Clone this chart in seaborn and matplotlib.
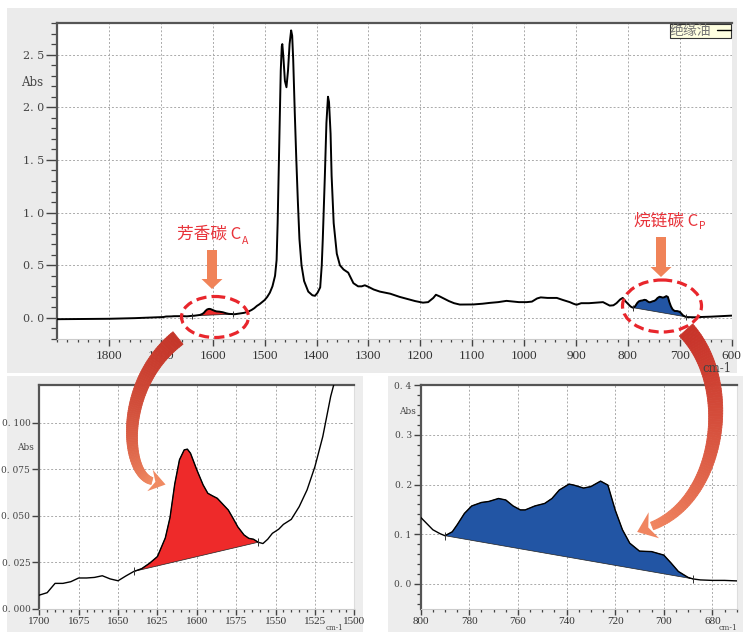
import numpy as np
import pandas as pd
import matplotlib
matplotlib.use("Agg")
import matplotlib.pyplot as plt
import matplotlib.colors as mcolors
import seaborn as sns
from matplotlib.patches import Ellipse, Rectangle, Polygon, FancyArrow
from matplotlib.collections import PolyCollection
from matplotlib.lines import Line2D
from matplotlib.ticker import MultipleLocator

# ---------------- data ----------------
wavenumber = [1900, 1850, 1800, 1750, 1700, 1695, 1690, 1685, 1680, 1675, 1670, 1665, 1660, 1655, 1650,
              1645, 1640, 1635, 1630, 1625, 1620, 1617, 1614, 1611, 1608, 1606, 1604, 1600, 1596, 1593,
              1590, 1587, 1584, 1580, 1577, 1574, 1570, 1567, 1564, 1561, 1558, 1555, 1552, 1548, 1545,
              1540, 1535, 1530, 1525, 1520, 1515, 1510, 1505, 1500, 1495, 1490, 1485, 1480, 1477, 1475,
              1473, 1471, 1469, 1467, 1466, 1464, 1461, 1458, 1455, 1452, 1449, 1447, 1445, 1442, 1439,
              1436, 1433, 1429, 1424, 1416, 1408, 1403, 1398, 1393, 1390, 1388, 1384, 1381, 1378, 1376,
              1373, 1371, 1367, 1361, 1355, 1348, 1339, 1334, 1329, 1320, 1313, 1307, 1300, 1290, 1278,
              1258, 1240, 1225, 1210, 1195, 1185, 1175, 1170, 1163, 1155, 1145, 1135, 1124, 1110, 1098,
              1080, 1066, 1050, 1034, 1020, 1010, 995, 985, 975, 968, 955, 937, 925, 912, 905,
              899, 890, 875, 860, 848, 840, 835, 828, 822, 815, 810, 805, 800, 795, 792,
              790, 787, 785, 782, 779, 775, 772, 768, 765, 762, 759, 757, 753, 749, 746,
              743, 739, 737, 733, 730, 726, 723, 720, 717, 714, 710, 705, 700, 697, 694,
              690, 688, 685, 680, 675, 670, 665, 650, 640, 625, 610, 600]
absorbance = [-0.012, -0.010, -0.008, -0.002, 0.0073, 0.0086, 0.0136, 0.0136, 0.0145, 0.0165, 0.0165, 0.0168, 0.0177, 0.0160, 0.0150,
              0.0176, 0.0200, 0.0215, 0.0244, 0.0280, 0.0380, 0.0490, 0.0670, 0.0800, 0.0853, 0.0857, 0.0835, 0.0746, 0.0665, 0.0620,
              0.0606, 0.0593, 0.0566, 0.0530, 0.0486, 0.0440, 0.0396, 0.0378, 0.0373, 0.0357, 0.0350, 0.0373, 0.0405, 0.0427, 0.0453,
              0.0480, 0.0548, 0.0638, 0.0763, 0.0925, 0.1140, 0.1300, 0.1500, 0.1700, 0.2000, 0.2400, 0.3000, 0.4000, 0.5500, 0.9000,
              1.4000, 1.9000, 2.3500, 2.5800, 2.6000, 2.4800, 2.2500, 2.1900, 2.3500, 2.6000, 2.7300, 2.6800, 2.4500, 1.9500, 1.5000,
              1.1000, 0.7500, 0.5000, 0.3500, 0.2500, 0.2150, 0.2100, 0.2400, 0.2900, 0.5000, 0.7500, 1.3500, 1.8500, 2.1000, 2.0500,
              1.7500, 1.3500, 0.9000, 0.6100, 0.5000, 0.4600, 0.4300, 0.3800, 0.3300, 0.3000, 0.3000, 0.3100, 0.2950, 0.2700, 0.2500,
              0.2300, 0.2000, 0.1800, 0.1600, 0.1450, 0.1500, 0.1900, 0.2200, 0.2050, 0.1850, 0.1600, 0.1400, 0.1270, 0.1270, 0.1280,
              0.1350, 0.1430, 0.1500, 0.1620, 0.1550, 0.1500, 0.1500, 0.1550, 0.1850, 0.1950, 0.1900, 0.1900, 0.1700, 0.1500, 0.1350,
              0.1250, 0.1400, 0.1400, 0.1450, 0.1500, 0.1300, 0.1170, 0.1200, 0.1400, 0.1750, 0.1900, 0.1600, 0.1340, 0.1090, 0.1010,
              0.0970, 0.1050, 0.1190, 0.1420, 0.1570, 0.1640, 0.1660, 0.1720, 0.1690, 0.1570, 0.1490, 0.1490, 0.1570, 0.1620, 0.1720,
              0.1890, 0.2010, 0.1990, 0.1930, 0.1960, 0.2070, 0.1990, 0.1490, 0.1090, 0.0820, 0.0660, 0.0650, 0.0580, 0.0420, 0.0250,
              0.0130, 0.0100, 0.0080, 0.0070, 0.0070, 0.0060, 0.0080, 0.0100, 0.0120, 0.0160, 0.0200, 0.0220]

aromatic_range = [1640, 1561]   # C_A integration limits (cm-1)
paraffin_range = [790, 688]     # C_P integration limits (cm-1)

legend_label = "绝缘油"
label_ca = "芳香碳 C"
label_cp = "烷链碳 C"

main_yticks = [0.0, 0.5, 1.0, 1.5, 2.0, 2.5]
main_xticks = [1800, 1700, 1600, 1500, 1400, 1300, 1200, 1100, 1000, 900, 800, 700, 600]
left_yticks = [0.000, 0.025, 0.050, 0.075, 0.100]
left_xticks = [1700, 1675, 1650, 1625, 1600, 1575, 1550, 1525, 1500]
right_yticks = [0.0, 0.1, 0.2, 0.3, 0.4]
right_xticks = [800, 780, 760, 740, 720, 700, 680]

df = pd.DataFrame({"wn": wavenumber, "abs": absorbance})
ca = df[(df.wn <= aromatic_range[0]) & (df.wn >= aromatic_range[1])]
cp = df[(df.wn <= paraffin_range[0]) & (df.wn >= paraffin_range[1])]
ends_ca = df[df.wn.isin(aromatic_range)]
ends_cp = df[df.wn.isin(paraffin_range)]

RED = "#EE2A2A"
BLUE = "#2255A4"
TXTRED = "#E8333A"
ORANGE = "#F08358"

sns.set_theme(style="white")
plt.rcParams["font.family"] = ["DejaVu Sans", "Noto Sans CJK SC"]
CJK = ["Noto Sans CJK SC", "DejaVu Sans"]

W, H = 743, 632
fig = plt.figure(figsize=(W / 100, H / 100), dpi=100, facecolor="white")

bg = fig.add_axes([0, 0, 1, 1], zorder=0)
bg.set_xlim(0, W); bg.set_ylim(H, 0); bg.axis("off")
bg.add_patch(Rectangle((7, 8), 730, 365, color="#EBEBEB", lw=0))
bg.add_patch(Rectangle((7, 376), 356, 256, color="#EDEDED", lw=0))
bg.add_patch(Rectangle((388, 376), 355, 256, color="#EDEDED", lw=0))


def px_axes(l, t, r, b):
    a = fig.add_axes([l / W, 1 - b / H, (r - l) / W, (b - t) / H], zorder=1)
    a.set_facecolor("white")
    return a


def fmt(v, nd):
    return f"{v:.{nd}f}".replace(".", ". ")


def draw_spectrum(ax, lw, ms):
    ax.fill(ca.wn, ca["abs"], facecolor=RED, edgecolor="#222222", lw=0.5, zorder=2)
    ax.fill(cp.wn, cp["abs"], facecolor=BLUE, edgecolor="#222222", lw=0.5, zorder=2)
    sns.lineplot(data=df, x="wn", y="abs", ax=ax, color="black", lw=lw,
                 estimator=None, sort=False, zorder=3)
    for e in (ends_ca, ends_cp):
        ax.plot(e.wn, e["abs"], ls="none", marker="|", ms=ms, mew=0.7, color="#333333", zorder=4)
    ax.set_xlabel(""); ax.set_ylabel("")
    ax.grid(True, which="major", ls=(0, (2, 2)), color="#AAAAAA", lw=0.7)


def style_axes(ax, ylen, xlen, ysize, xsize, xpad=3):
    ax.tick_params(axis="both", which="both", direction="out", colors="#444444",
                   left=True, bottom=True, top=False, right=False)
    ax.tick_params(axis="y", which="major", length=ylen, width=1.0, pad=1.5,
                   labelsize=ysize, labelcolor="#444444")
    ax.tick_params(axis="y", which="minor", length=ylen * 0.55, width=0.9)
    ax.tick_params(axis="x", which="major", length=xlen, width=1.0, pad=xpad,
                   labelsize=xsize, labelcolor="#333333")
    ax.tick_params(axis="x", which="minor", length=xlen * 0.5, width=0.9)
    for lab in ax.get_yticklabels():
        lab.set_family("DejaVu Serif")
    for lab in ax.get_xticklabels():
        lab.set_family("Liberation Serif")
    ax.spines["top"].set_color("#555555"); ax.spines["top"].set_linewidth(1.6)
    ax.spines["left"].set_color("#555555"); ax.spines["left"].set_linewidth(1.6)
    ax.spines["bottom"].set_color("#CCCCCC"); ax.spines["bottom"].set_linewidth(0.8)
    ax.spines["right"].set_color("#DDDDDD"); ax.spines["right"].set_linewidth(0.8)


# ---------------- main panel ----------------
ax = px_axes(57.1, 23, 731.7, 339)
draw_spectrum(ax, 1.4, 5)
ax.set_xlim(1900, 600); ax.set_ylim(-0.2, 2.8)
ax.set_yticks(main_yticks); ax.set_yticklabels([fmt(v, 1) for v in main_yticks])
ax.set_xticks(main_xticks); ax.set_xticklabels([str(v) for v in main_xticks])
ax.yaxis.set_minor_locator(MultipleLocator(0.1))
ax.xaxis.set_minor_locator(MultipleLocator(20))
style_axes(ax, 8, 5, 8, 9.5)
ax.spines["right"].set_visible(False)
leg = ax.legend(handles=[Line2D([], [], color="black", lw=1.0)], labels=[legend_label],
                loc="upper right", markerfirst=False, frameon=True, facecolor="#FFFFE0",
                edgecolor="#333333", fancybox=False, framealpha=1, borderpad=0.0,
                handlelength=1.0, handletextpad=0.4, borderaxespad=0.05,
                prop={"family": CJK, "size": 10}, labelcolor="#777777")
leg.get_frame().set_linewidth(0.8)

# ---------------- left inset ----------------
axl = px_axes(39.3, 385.3, 354.3, 608.7)
draw_spectrum(axl, 1.0, 6)
axl.set_xlim(1700, 1500); axl.set_ylim(0, 0.12)
axl.set_yticks(left_yticks); axl.set_yticklabels([fmt(v, 3) for v in left_yticks])
axl.set_xticks(left_xticks); axl.set_xticklabels([str(v) for v in left_xticks])
axl.xaxis.set_minor_locator(MultipleLocator(5))
style_axes(axl, 5, 4.5, 6.5, 8, xpad=1.5)

# ---------------- right inset ----------------
axr = px_axes(420.7, 385.3, 736.7, 608.7)
draw_spectrum(axr, 1.0, 6)
axr.set_xlim(800, 670); axr.set_ylim(-0.05, 0.4)
axr.set_yticks(right_yticks); axr.set_yticklabels([fmt(v, 1) for v in right_yticks])
axr.set_xticks(right_xticks); axr.set_xticklabels([str(v) for v in right_xticks])
axr.yaxis.set_minor_locator(MultipleLocator(0.02))
axr.xaxis.set_minor_locator(MultipleLocator(5))
style_axes(axr, 5, 4.5, 6.5, 8, xpad=1.5)

# ---------------- overlay: labels, ellipses, arrows ----------------
ov = fig.add_axes([0, 0, 1, 1], zorder=5)
ov.set_xlim(0, W); ov.set_ylim(H, 0); ov.axis("off"); ov.patch.set_alpha(0)

lab_kw = dict(family="DejaVu Serif", color="#444444")
ov.text(32, 83, "Abs", size=8.5, ha="center", va="center", **lab_kw)
ov.text(717, 369, "cm-1", size=8.5, ha="center", va="center", **lab_kw)
ov.text(25, 447, "Abs", size=6.5, ha="center", va="center", **lab_kw)
ov.text(334.5, 632, "cm-1", size=5, ha="center", va="bottom", **lab_kw)
ov.text(407, 411, "Abs", size=6.5, ha="center", va="center", **lab_kw)
ov.text(728, 632, "cm-1", size=5.5, ha="center", va="bottom", **lab_kw)

ov.text(241, 234, label_ca, size=12, color=TXTRED, ha="right", va="center", family=CJK)
ov.text(242, 244, "A", size=7.5, color=TXTRED, ha="left", va="baseline", family=CJK)
ov.text(698, 221, label_cp, size=12, color=TXTRED, ha="right", va="center", family=CJK)
ov.text(699, 229, "P", size=7.5, color=TXTRED, ha="left", va="baseline", family=CJK)

ov.add_patch(FancyArrow(212, 250, 0, 39, width=10, head_width=21, head_length=10,
                        length_includes_head=True, color=ORANGE, lw=0))
ov.add_patch(FancyArrow(661, 237, 0, 40, width=10, head_width=21, head_length=10,
                        length_includes_head=True, color=ORANGE, lw=0))

ov.add_patch(Ellipse((215, 317), 67, 41, fill=False, ec="#E8262C", lw=2.3, ls=(0, (3.2, 1.6))))
ov.add_patch(Ellipse((662, 306), 79, 52, fill=False, ec="#E8262C", lw=2.3, ls=(0, (3.2, 1.6))))


def bezier(P, n):
    t = np.linspace(0, 1, n)[:, None]
    P = np.asarray(P, float)
    return ((1 - t) ** 3) * P[0] + 3 * ((1 - t) ** 2) * t * P[1] + 3 * (1 - t) * t ** 2 * P[2] + t ** 3 * P[3]


def band(P, w0, w1, c0, c1, head_len, head_w, n=90):
    pts = bezier(P, n)
    d = np.gradient(pts, axis=0)
    d /= np.linalg.norm(d, axis=1)[:, None]
    nrm = np.stack([-d[:, 1], d[:, 0]], axis=1)
    w = np.linspace(w0, w1, n)[:, None] / 2
    L = pts + nrm * w
    R = pts - nrm * w
    polys = [[L[i], L[i + 1], R[i + 1], R[i]] for i in range(n - 1)]
    a = np.array(mcolors.to_rgb(c0)); b = np.array(mcolors.to_rgb(c1))
    cols = [tuple(a + (b - a) * (i / (n - 2)) ** 1.3) for i in range(n - 1)]
    ov.add_collection(PolyCollection(polys, facecolors=cols, edgecolors=cols, lw=0.6))
    end, dd, nn = pts[-1], d[-1], nrm[-1]
    tip = end + dd * head_len
    notch = end + dd * head_len * 0.25
    head = [end + nn * head_w / 2 - dd * 2, tip, end - nn * head_w / 2 - dd * 2, notch]
    ov.add_patch(Polygon(head, closed=True, color=c1, lw=0))


band([(178, 338), (118, 385), (125, 475), (152, 481)], 16, 7, "#C5362A", "#F08A62", 14, 22)
band([(686, 330), (737, 385), (720, 500), (652, 526)], 18, 8, "#C8342A", "#F08560", 16, 28)

fig.savefig("out.png", dpi=100, facecolor="white")
